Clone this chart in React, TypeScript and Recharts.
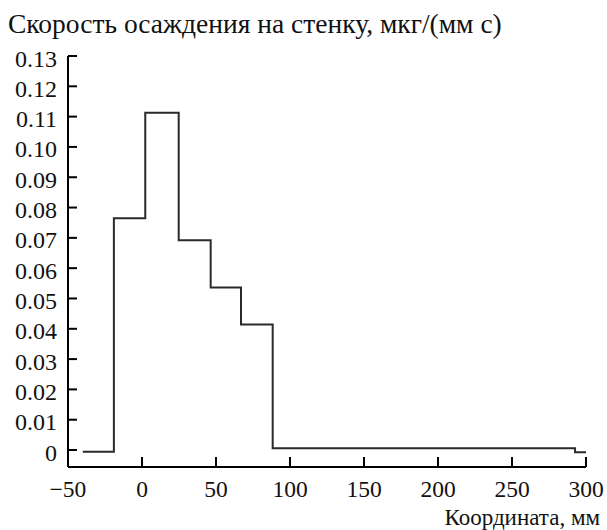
import React from 'react';
import { LineChart, Line, XAxis, YAxis } from 'recharts';

// Deposition rate profile along the wall (step function)
const coordMm = [-40, -19, 2.2, 24.8, 46.4, 66.9, 88.3, 292.6, 300];
const rate = [-0.0006, 0.0765, 0.1113, 0.0692, 0.0536, 0.0414, 0.0006, -0.0007, -0.0007];

const xTicks = [-50, 0, 50, 100, 150, 200, 250, 300];
const yTicks = [0, 0.01, 0.02, 0.03, 0.04, 0.05, 0.06, 0.07, 0.08, 0.09, 0.1, 0.11, 0.12, 0.13];

const yTitle = 'Скорость осаждения на стенку, мкг/(мм с)';
const xTitle = 'Координата, мм';

const chartData = coordMm.map((x, i) => ({ x, rate: rate[i] }));

const FONT = "'Liberation Serif', Tinos, 'Times New Roman', 'DejaVu Serif', 'Noto Serif', serif";

const fmtX = (v: number) => (v < 0 ? '\u2212' + Math.abs(v) : String(v));
const fmtY = (v: number) => (v === 0 ? '0' : v.toFixed(2));

const App: React.FC = () => {
  return (
    <div style={{ position: 'absolute', left: 0, top: 0, width: 607, height: 530, background: '#fff' }}>
      <LineChart width={607} height={530} data={chartData} margin={{ top: 56, right: 21, left: 0, bottom: 0 }}>
        <XAxis
          dataKey="x"
          type="number"
          domain={[-50, 300]}
          ticks={xTicks}
          tickFormatter={fmtX}
          height={63}
          tickSize={-10}
          tickMargin={23}
          axisLine={{ stroke: '#000', strokeWidth: 2 }}
          tickLine={{ stroke: '#000', strokeWidth: 2 }}
          tick={{ fill: '#111', fontSize: 23.5, fontFamily: FONT }}
          interval={0}
        />
        <YAxis
          type="number"
          domain={[-0.0056, 0.13]}
          ticks={yTicks}
          tickFormatter={fmtY}
          width={68}
          tickSize={-9}
          tickMargin={20}
          axisLine={{ stroke: '#000', strokeWidth: 2 }}
          tickLine={{ stroke: '#000', strokeWidth: 2 }}
          tick={{ fill: '#111', fontSize: 24, fontFamily: FONT, dy: 2 }}
          interval={0}
          allowDataOverflow
        />
        <Line
          type="stepAfter"
          dataKey="rate"
          stroke="#2a2a2a"
          strokeWidth={2}
          dot={false}
          isAnimationActive={false}
        />
      </LineChart>
      {/* axis titles sit outside the plot area, so they go on a plain overlay */}
      <svg width={607} height={530} style={{ position: 'absolute', left: 0, top: 0, pointerEvents: 'none' }}>
        <text x={8} y={33} fontSize={27.5} fill="#111" fontFamily={FONT}>
          {yTitle}
        </text>
        <text x={600} y={525} fontSize={23} fill="#111" fontFamily={FONT} textAnchor="end">
          {xTitle}
        </text>
      </svg>
    </div>
  );
};

export default App;
